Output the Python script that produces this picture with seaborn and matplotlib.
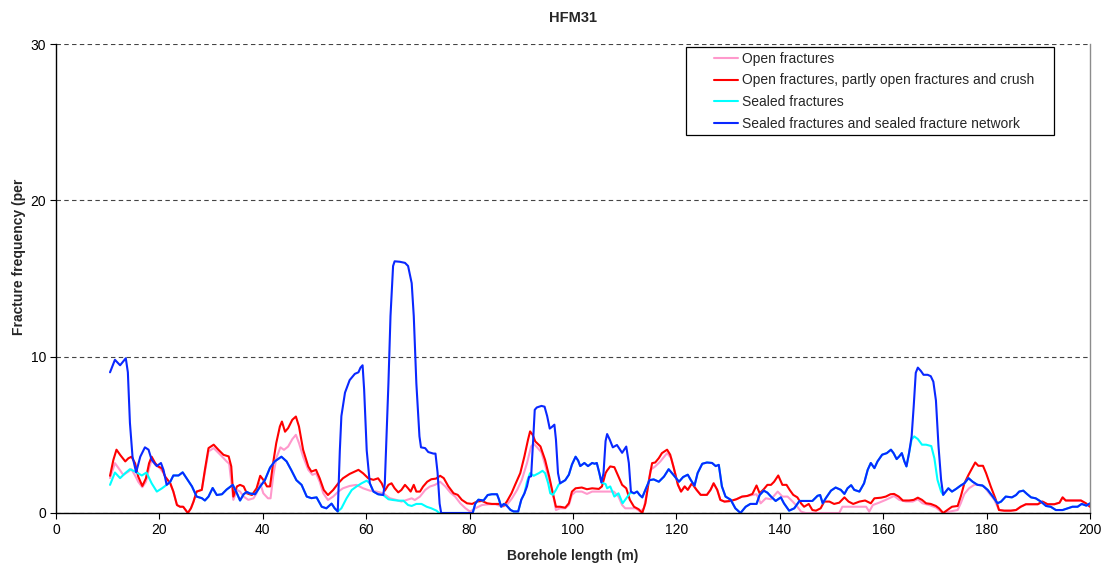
import matplotlib
matplotlib.use("Agg")
import matplotlib.pyplot as plt
from matplotlib.patches import Rectangle
from matplotlib.lines import Line2D
import pandas as pd
import seaborn as sns

# ---------------- data ----------------
title = "HFM31"
x_label = "Borehole length (m)"
y_label = "Fracture frequency (per"
series_names = [
    "Open fractures",
    "Open fractures, partly open fractures and crush",
    "Sealed fractures",
    "Sealed fractures and sealed fracture network",
]
series_colors = ["#FF99CC", "#FF0000", "#00FFFF", "#0A28FF"]
x_ticks = [0, 20, 40, 60, 80, 100, 120, 140, 160, 180, 200]
y_ticks = [0, 10, 20, 30]

open_depth = [10.45, 11.4, 12.1, 13.0, 14.0, 14.6, 15.4, 15.9, 16.7, 17.4, 18.0, 18.5, 19.2, 20.1, 20.8,
              21.1, 22.1, 22.7, 23.4, 24.0, 24.6, 25.5, 26.1, 26.6, 27.2, 28.2, 28.8, 29.5, 30.5, 31.8,
              33.0, 33.5, 34.3, 35.0, 35.6, 36.3, 37.2, 38.2, 38.8, 39.5, 40.1, 41.0, 41.5, 42.0, 42.6,
              43.4, 44.1, 44.9, 45.7, 46.4, 47.0, 47.8, 48.8, 49.6, 50.3, 51.0, 51.7, 52.6, 53.6, 54.6,
              55.5, 56.8, 58.1, 59.4, 60.7, 62.0, 63.3, 64.6, 65.9, 66.8, 67.8, 68.8, 69.4, 70.4, 71.4,
              72.3, 73.3, 74.3, 75.3, 76.3, 77.2, 78.2, 79.2, 80.1, 81.1, 82.4, 83.7, 85.0, 86.3, 87.2,
              88.2, 89.2, 90.1, 91.1, 91.9, 92.4, 93.0, 93.9, 94.6, 95.4, 96.3, 96.7, 97.5, 98.5, 99.2,
              99.8, 100.5, 101.7, 102.7, 103.7, 105.0, 106.3, 107.9, 108.8, 109.5, 110.1, 111.1, 112.1,
              113.0, 113.7, 114.3, 115.0, 115.9, 116.9, 118.2, 119.0, 119.6, 120.3, 120.9, 121.6, 122.2,
              123.0, 123.9, 124.7, 125.9, 126.6, 127.2, 127.9, 128.5, 129.3, 130.5, 131.6, 132.7, 133.7,
              134.7, 135.5, 136.3, 137.3, 138.3, 139.6, 140.5, 141.5, 142.5, 143.4, 144.1, 145.0, 151.5,
              152.1, 156.7, 157.3, 158.0, 159.2, 160.5, 161.5, 162.1, 163.1, 164.4, 165.7, 166.7, 167.6,
              168.9, 170.2, 171.5, 172.8, 174.4, 175.0, 175.7, 176.6, 177.6, 178.6, 179.5, 180.5, 181.5,
              182.4, 183.4, 184.7, 185.7, 186.6, 187.6, 188.9, 189.9, 190.8, 191.8, 193.1, 194.1, 194.7,
              195.3, 196.6, 198.25, 199.2, 200.0]
open_freq = [2.23, 3.19, 2.87, 2.44, 2.65, 2.8, 2.33, 2.0, 1.65, 2.0, 2.87, 3.4, 3.08, 2.87, 2.55,
             2.33, 1.9, 1.37, 0.51, 0.4, 0.4, 0.0, 0.3, 0.73, 1.37, 1.48, 2.6, 3.94, 4.15, 3.72,
             3.3, 3.15, 0.84, 1.48, 1.37, 1.05, 0.84, 0.94, 1.26, 1.9, 1.26, 0.94, 0.94, 2.33, 3.5,
             4.2, 4.04, 4.25, 4.72, 5.0, 4.47, 3.6, 2.76, 2.44, 2.54, 2.0, 1.26, 0.83, 1.05, 1.37,
             1.58, 1.73, 1.8, 1.58, 1.43, 1.37, 1.26, 0.94, 0.83, 0.73, 0.83, 0.94, 0.83, 1.05, 1.47,
             1.69, 1.8, 2.0, 1.7, 1.3, 1.05, 0.62, 0.3, 0.09, 0.3, 0.51, 0.56, 0.56, 0.4, 0.51,
             0.94, 1.48, 2.12, 3.19, 4.26, 4.43, 4.22, 3.88, 3.08, 2.12, 0.94, 0.19, 0.3, 0.3, 0.51,
             1.16, 1.37, 1.37, 1.22, 1.37, 1.37, 1.37, 1.37, 1.05, 0.51, 0.3, 0.3, 0.3,
             0.09, 0.3, 1.26, 2.76, 2.98, 3.3, 3.83, 3.51, 2.76, 1.8, 1.37, 1.7, 1.48,
             1.9, 1.48, 1.16, 1.16, 1.48, 1.9, 1.48, 0.84, 0.73, 0.77, 0.88, 1.05, 1.09,
             1.15, 1.2, 0.62, 0.94, 0.88, 1.37, 1.05, 1.05, 0.73, 0.4, 0.09, 0.0, 0.0,
             0.4, 0.4, 0.09, 0.51, 0.66, 0.84, 1.0, 1.09, 0.84, 0.73, 0.73, 0.88, 0.62,
             0.51, 0.35, 0.0, 0.09, 0.19, 0.62, 1.22, 1.58, 1.8, 1.8, 1.7, 1.26, 0.84,
             0.2, 0.15, 0.15, 0.19, 0.4, 0.56, 0.56, 0.56, 0.73, 0.56, 0.56, 0.66, 1.0,
             0.8, 0.8, 0.8, 0.62, 0.4]

crush_depth = [10.45, 11.1, 11.7, 12.4, 13.4, 14.0, 14.6, 15.3, 15.9, 16.7, 17.4, 18.0, 18.5, 19.2, 19.8,
               20.5, 21.1, 22.1, 22.7, 23.4, 24.0, 24.6, 25.5, 26.1, 26.6, 27.2, 28.2, 28.8, 29.5, 30.5,
               31.4, 32.4, 33.4, 33.9, 34.3, 35.0, 35.6, 36.3, 36.9, 37.9, 38.8, 39.5, 40.1, 40.8, 41.4,
               42.0, 42.6, 43.3, 43.7, 44.3, 44.9, 45.7, 46.4, 47.0, 47.8, 48.8, 49.4, 50.3, 51.0, 51.8,
               52.6, 53.6, 54.6, 55.5, 56.8, 57.8, 58.5, 59.4, 60.4, 61.4, 62.3, 63.0, 63.6, 64.3, 64.9,
               65.5, 66.2, 66.8, 67.5, 68.1, 68.6, 69.2, 69.7, 70.4, 71.0, 71.8, 72.6, 73.5, 74.3, 75.0,
               75.9, 76.9, 77.7, 78.5, 79.5, 80.5, 81.4, 82.4, 83.4, 84.3, 85.6, 86.6, 87.2, 88.1, 88.8,
               89.8, 90.6, 91.3, 91.7, 92.2, 92.7, 93.7, 94.6, 95.4, 96.1, 96.7, 97.5, 98.5, 99.2, 99.8,
               100.5, 101.7, 102.7, 103.7, 105.0, 105.6, 106.3, 106.6, 107.2, 108.0, 108.8, 109.5, 110.3,
               111.0, 111.8, 112.7, 113.4, 114.0, 114.7, 115.3, 115.9, 116.6, 117.2, 118.2, 118.8, 119.5,
               120.3, 120.9, 121.6, 122.2, 123.0, 123.9, 124.7, 125.9, 126.6, 127.2, 127.9, 128.5, 129.3,
               130.5, 131.6, 132.7, 133.7, 134.7, 135.5, 136.1, 136.9, 137.6, 138.3, 138.9, 139.7, 140.5,
               141.3, 141.9, 142.6, 143.4, 144.1, 144.7, 145.6, 146.3, 147.0, 147.9, 148.6, 149.6, 150.5,
               151.5, 152.5, 153.3, 154.2, 155.4, 156.5, 157.6, 158.3, 159.6, 160.5, 161.4, 162.1, 163.0,
               163.8, 165.0, 165.9, 166.7, 167.5, 168.3, 169.2, 170.2, 170.8, 171.6, 172.4, 173.3, 174.4,
               175.0, 175.7, 176.5, 177.2, 177.8, 178.4, 179.3, 179.9, 180.8, 181.8, 182.4, 183.4, 184.7,
               185.7, 186.6, 187.6, 188.9, 189.9, 190.8, 191.8, 193.1, 194.1, 194.7, 195.3, 196.6, 198.25,
               199.2, 200.0]
crush_freq = [2.38, 3.4, 4.05, 3.72, 3.3, 3.5, 3.6, 3.18, 2.33, 1.73, 2.22, 3.18, 3.6, 3.18, 2.97,
              2.86, 2.33, 1.9, 1.37, 0.51, 0.4, 0.4, 0.0, 0.3, 0.73, 1.37, 1.48, 2.76, 4.15, 4.37,
              4.05, 3.72, 3.62, 2.98, 1.05, 1.7, 1.8, 1.7, 1.26, 1.15, 1.58, 2.38, 2.12, 1.7, 1.7,
              3.2, 4.47, 5.53, 5.85, 5.2, 5.43, 5.96, 6.17, 5.53, 4.04, 2.97, 2.65, 2.76, 2.22, 1.47,
              1.15, 1.47, 1.9, 2.22, 2.5, 2.65, 2.76, 2.54, 2.22, 2.12, 2.22, 1.9, 1.43, 1.8, 1.9,
              1.58, 1.32, 1.47, 1.8, 1.58, 1.37, 1.8, 1.37, 1.37, 1.69, 2.0, 2.16, 2.2, 2.38, 2.23,
              1.7, 1.26, 1.16, 0.84, 0.62, 0.58, 0.73, 0.77, 0.62, 0.58, 0.58, 0.47, 0.73, 1.26, 1.8,
              2.55, 3.62, 4.69, 5.22, 5.0, 4.58, 4.26, 3.4, 2.33, 1.26, 0.4, 0.4, 0.34, 0.62, 1.37,
              1.58, 1.63, 1.52, 1.58, 1.54, 1.7, 2.55, 2.72, 2.98, 2.93, 2.33, 1.8, 1.58,
              0.84, 0.4, 0.24, 0.0, 0.62, 2.12, 3.19, 3.23, 3.51, 3.83, 4.05, 3.73, 2.87,
              1.8, 1.37, 1.7, 1.48, 1.9, 1.48, 1.16, 1.16, 1.48, 1.9, 1.48, 0.84, 0.73,
              0.77, 0.88, 1.05, 1.09, 1.22, 1.76, 1.26, 1.52, 1.8, 1.8, 2.0, 2.4, 1.8,
              1.8, 1.48, 1.16, 1.0, 0.62, 0.4, 0.58, 0.19, 0.15, 0.3, 0.73, 0.73, 0.58,
              0.66, 1.0, 0.73, 0.58, 0.73, 0.8, 0.62, 0.94, 0.98, 1.05, 1.2, 1.22, 1.05,
              0.8, 0.8, 0.84, 0.98, 0.84, 0.62, 0.58, 0.45, 0.3, 0.0, 0.19, 0.4, 0.45,
              1.05, 1.9, 2.44, 2.87, 3.23, 3.02, 3.02, 2.55, 1.7, 0.84, 0.19, 0.15, 0.15,
              0.19, 0.4, 0.56, 0.56, 0.56, 0.73, 0.56, 0.56, 0.66, 1.0, 0.8, 0.8, 0.8,
              0.62, 0.4]

sealed_depth = [10.45, 11.4, 12.4, 13.4, 14.3, 15.3, 16.6, 17.5, 18.5, 19.5, 20.5, 21.4,
                22.1, 22.7, 23.7, 24.5, 25.3, 26.3, 27.2, 28.2, 28.8, 29.5, 30.3, 31.1, 32.1, 33.0,
                34.2, 35.0, 35.6, 36.3, 36.9, 37.5, 38.5, 39.5, 40.4, 41.4, 42.3, 43.6, 44.6, 45.5,
                46.5, 47.5, 48.5, 49.4, 50.4, 51.4, 52.3, 53.3, 53.9, 54.5, 55.2, 56.2, 57.2, 58.1,
                59.1, 60.1, 60.7, 61.4, 62.3, 63.3, 64.3, 65.2, 66.2, 67.2, 68.1, 68.8, 69.7, 70.7,
                71.7, 72.6, 73.6, 74.1, 80.6, 81.1, 81.7, 82.7, 83.5, 84.3, 85.3, 85.7, 86.1, 86.6,
                87.1, 87.9, 88.5, 89.4, 90.0, 90.6, 91.1, 91.7, 92.4, 93.4, 94.1, 94.6, 95.2, 95.6,
                96.1, 96.7, 97.2, 97.5, 98.5, 99.2, 99.8, 100.5, 101.0, 101.4, 102.2, 102.9, 103.7,
                104.2, 104.6, 105.1, 105.5, 106.3, 106.6, 107.2, 108.0, 108.8, 109.6, 110.3, 111.1,
                111.8, 112.4, 112.9, 113.4, 114.0, 114.8, 115.6, 116.6, 117.6, 118.5, 119.4, 120.5,
                121.3, 122.2, 122.8, 123.5, 124.1, 125.0, 125.9, 126.9, 127.6, 128.2, 128.8, 129.5,
                130.5, 131.4, 132.4, 133.4, 134.3, 135.5, 136.1, 136.9, 137.6, 138.3, 139.2, 140.2,
                140.8, 141.8, 142.8, 143.8, 145.0, 146.3, 147.3, 147.8, 148.3, 148.9, 149.9, 150.8,
                151.8, 152.5, 153.1, 153.8, 154.4, 155.4, 156.3, 157.0, 157.6, 158.3, 158.9, 159.8,
                160.7, 161.5, 162.0, 162.6, 163.1, 163.6, 164.1, 164.5, 165.0, 165.5, 166.0, 166.7,
                167.5, 168.3, 169.3, 169.9, 170.5, 171.2, 171.6, 172.1, 172.6, 173.3, 174.1, 175.0,
                175.7, 176.5, 177.3, 178.25, 179.2, 180.2, 181.2, 182.1, 182.8, 183.7, 184.9, 185.7,
                186.3, 187.1, 187.8, 188.6, 189.5, 190.5, 191.5, 192.4, 193.4, 194.7, 195.7, 196.6,
                197.6, 198.4, 199.3, 200.0]
sealed_freq = [1.8, 2.59, 2.23, 2.55, 2.8, 2.65, 2.4, 2.59, 1.9, 1.37, 1.58, 1.8,
               2.0, 2.4, 2.4, 2.6, 2.2, 1.7, 1.05, 0.95, 0.8, 1.05, 1.6, 1.15, 1.2, 1.5,
               1.8, 1.25, 0.8, 1.2, 1.35, 1.25, 1.2, 1.7, 2.1, 2.9, 3.3, 3.6, 3.3, 2.75,
               2.1, 1.8, 1.05, 0.95, 1.0, 0.4, 0.3, 0.6, 0.3, 0.1, 0.3, 0.94, 1.47, 1.69,
               1.9, 2.07, 1.9, 1.37, 1.2, 1.15, 0.88, 0.83, 0.79, 0.79, 0.51, 0.45, 0.58, 0.58,
               0.4, 0.3, 0.15, 0.0, 0.0, 0.6, 0.85, 0.8, 1.15, 1.2, 1.2, 0.85, 0.4, 0.58,
               0.5, 0.2, 0.1, 0.1, 0.85, 1.25, 2.0, 2.55, 2.38, 2.55, 2.7, 2.55, 1.9, 1.26,
               1.16, 1.48, 1.8, 1.9, 2.1, 2.45, 3.1, 3.6, 3.35, 3.0, 3.2, 3.0, 3.2,
               3.15, 3.2, 2.55, 1.95, 1.85, 1.58, 1.7, 1.05, 1.26, 0.62, 0.94, 1.3,
               1.26, 1.37, 1.15, 1.0, 1.48, 2.1, 2.15, 2.0, 2.33, 2.8, 2.45, 2.0,
               2.3, 2.45, 2.1, 1.75, 2.55, 3.15, 3.23, 3.2, 3.0, 3.08, 1.7, 1.05,
               0.85, 0.3, 0.0, 0.4, 0.58, 0.58, 1.15, 1.43, 1.3, 1.05, 0.77, 1.0,
               0.62, 0.15, 0.3, 0.77, 0.77, 0.77, 1.1, 1.15, 0.62, 0.95, 1.43, 1.63,
               1.48, 1.22, 1.58, 1.78, 1.48, 1.37, 1.9, 2.76, 3.2, 2.87, 3.3, 3.73,
               3.83, 4.05, 3.83, 3.45, 3.62, 3.83, 3.3, 2.98, 3.83, 4.7, 4.9, 4.73,
               4.37, 4.37, 4.28, 3.5, 2.12, 1.37, 1.16, 1.37, 1.58, 1.37, 1.54, 1.76,
               1.9, 2.23, 2.0, 1.8, 1.76, 1.48, 1.05, 0.62, 0.73, 1.05, 1.0, 1.15,
               1.37, 1.43, 1.22, 1.0, 0.94, 0.73, 0.45, 0.4, 0.19, 0.19, 0.3, 0.4,
               0.4, 0.58, 0.47, 0.62]

network_depth = [10.45, 11.4, 12.4, 13.5, 13.9, 14.3, 14.8, 15.5, 16.3, 17.2, 17.9, 18.5, 19.5, 20.3,
                 20.8, 21.4, 22.1, 22.7, 23.7, 24.5, 25.3, 26.3, 27.2, 28.2, 28.8, 29.5, 30.3, 31.1,
                 32.1, 33.0, 34.2, 35.0, 35.6, 36.3, 36.9, 37.5, 38.5, 39.5, 40.4, 41.4, 42.3, 43.6,
                 44.6, 45.5, 46.5, 47.5, 48.5, 49.4, 50.4, 51.4, 52.3, 53.3, 53.9, 54.5, 54.9, 55.2,
                 55.9, 56.8, 57.8, 58.5, 58.9, 59.3, 59.6, 60.1, 60.7, 61.4, 62.3, 63.3, 63.6, 64.3,
                 64.7, 65.2, 65.5, 66.5, 67.5, 68.1, 68.8, 69.2, 69.7, 70.3, 70.6, 71.4, 72.0, 73.0,
                 73.4, 73.8, 74.2, 74.5, 80.6, 81.1, 81.7, 82.7, 83.5, 84.3, 85.3, 85.7, 86.1, 86.6,
                 87.1, 87.9, 88.5, 89.4, 90.0, 90.6, 91.1, 91.5, 91.9, 92.3, 92.6, 93.0, 93.9, 94.5,
                 95.0, 95.5, 95.9, 96.4, 96.7, 97.1, 97.5, 98.5, 99.2, 99.8, 100.5, 101.0, 101.4,
                 102.2, 102.9, 103.7, 104.2, 104.6, 105.1, 105.5, 105.9, 106.3, 106.6, 107.1, 107.7,
                 108.5, 109.5, 110.3, 110.8, 111.2, 111.8, 112.4, 112.9, 113.4, 114.0, 114.8, 115.6,
                 116.6, 117.6, 118.5, 119.4, 120.5, 121.3, 122.2, 122.8, 123.5, 124.1, 125.0, 125.9,
                 126.9, 127.6, 128.2, 128.8, 129.5, 130.5, 131.4, 132.4, 133.4, 134.3, 135.5, 136.1,
                 136.9, 137.6, 138.3, 139.2, 140.2, 140.8, 141.8, 142.8, 143.8, 145.0, 146.3, 147.3,
                 147.8, 148.3, 148.9, 149.9, 150.8, 151.8, 152.5, 153.1, 153.8, 154.4, 155.4, 156.3,
                 157.0, 157.6, 158.3, 158.9, 159.8, 160.7, 161.5, 162.0, 162.6, 163.1, 163.6, 164.1,
                 164.5, 165.0, 165.5, 165.9, 166.3, 166.7, 167.3, 167.8, 168.6, 169.2, 169.7, 170.2,
                 170.7, 171.2, 171.6, 172.1, 172.6, 173.3, 174.1, 175.0, 175.7, 176.5, 177.3, 178.25,
                 179.2, 180.2, 181.2, 182.1, 182.8, 183.7, 184.9, 185.7, 186.3, 187.1, 187.8, 188.6,
                 189.5, 190.5, 191.5, 192.4, 193.4, 194.7, 195.7, 196.6, 197.6, 198.4, 199.3, 200.0]
network_freq = [9.0, 9.8, 9.45, 9.9, 9.0, 5.76, 3.6, 2.6, 3.6, 4.2, 4.05, 3.4, 3.0, 3.2,
                2.75, 1.8, 2.0, 2.4, 2.4, 2.6, 2.2, 1.7, 1.05, 0.95, 0.8, 1.05, 1.6, 1.15,
                1.2, 1.5, 1.8, 1.25, 0.8, 1.2, 1.35, 1.25, 1.2, 1.7, 2.1, 2.9, 3.3, 3.6,
                3.3, 2.75, 2.1, 1.8, 1.05, 0.95, 1.0, 0.4, 0.3, 0.6, 0.3, 0.1, 4.0, 6.2,
                7.7, 8.5, 8.9, 9.0, 9.3, 9.45, 7.9, 4.0, 1.9, 1.37, 1.2, 1.15, 1.9, 8.3,
                12.6, 15.8, 16.1, 16.07, 16.0, 15.8, 14.7, 12.6, 8.3, 4.9, 4.2, 4.15, 3.9, 3.8,
                3.8, 2.6, 0.6, 0.0, 0.0, 0.6, 0.85, 0.8, 1.15, 1.2, 1.2, 0.85, 0.4, 0.58,
                0.5, 0.2, 0.1, 0.1, 0.85, 1.25, 1.7, 2.3, 2.35, 4.7, 6.6, 6.75, 6.85, 6.8,
                6.2, 5.4, 5.5, 5.65, 4.7, 2.55, 1.9, 2.1, 2.45, 3.1, 3.6, 3.35, 3.0,
                3.2, 3.0, 3.2, 3.15, 3.2, 2.55, 1.95, 2.55, 4.6, 5.05, 4.7, 4.2,
                4.35, 3.85, 4.25, 3.2, 1.37, 1.26, 1.37, 1.15, 1.0, 1.48, 2.1, 2.15,
                2.0, 2.33, 2.8, 2.45, 2.0, 2.3, 2.45, 2.1, 1.75, 2.55, 3.15, 3.23,
                3.2, 3.0, 3.08, 1.7, 1.05, 0.85, 0.3, 0.0, 0.4, 0.58, 0.58, 1.15,
                1.43, 1.3, 1.05, 0.77, 1.0, 0.62, 0.15, 0.3, 0.77, 0.77, 0.77, 1.1,
                1.15, 0.62, 0.95, 1.43, 1.63, 1.48, 1.22, 1.58, 1.78, 1.48, 1.37, 1.9,
                2.76, 3.2, 2.87, 3.3, 3.73, 3.83, 4.05, 3.83, 3.45, 3.62, 3.83, 3.3,
                2.98, 3.83, 4.9, 6.83, 8.97, 9.3, 9.08, 8.84, 8.84, 8.75, 8.4, 7.2,
                4.26, 2.12, 1.16, 1.37, 1.58, 1.37, 1.54, 1.76, 1.9, 2.23, 2.0, 1.8,
                1.76, 1.48, 1.05, 0.62, 0.73, 1.05, 1.0, 1.15, 1.37, 1.43, 1.22, 1.0,
                0.94, 0.73, 0.45, 0.4, 0.19, 0.19, 0.3, 0.4, 0.4, 0.58, 0.47, 0.62]

# ---------------- build long table ----------------
frames = []
for name, d, f in zip(series_names,
                      [open_depth, crush_depth, sealed_depth, network_depth],
                      [open_freq, crush_freq, sealed_freq, network_freq]):
    frames.append(pd.DataFrame({"depth": d, "freq": f, "series": name}))
df = pd.concat(frames, ignore_index=True)

# ---------------- figure ----------------
sns.set_theme(style="white")
plt.rcParams["font.family"] = ["Liberation Sans", "DejaVu Sans"]

W, H = 1110, 569
fig = plt.figure(figsize=(W / 100, H / 100), dpi=100)
L, R, T, B = 56, 1090, 44, 513
ax = fig.add_axes([L / W, 1 - B / H, (R - L) / W, (B - T) / H])

sns.lineplot(data=df, x="depth", y="freq", hue="series", hue_order=series_names,
             palette=dict(zip(series_names, series_colors)), sort=False, estimator=None,
             linewidth=1.5, ax=ax, legend=False)
for ln in ax.lines:
    ln.set_solid_joinstyle("round")

ax.set_xlim(x_ticks[0], x_ticks[-1])
ax.set_ylim(y_ticks[0], y_ticks[-1])
ax.set_xticks(x_ticks)
ax.set_yticks(y_ticks)
ax.tick_params(axis="both", which="major", direction="out", length=4, width=0.8,
               color="black", labelsize=10, labelcolor="black", pad=3,
               bottom=True, left=True)

ax.yaxis.grid(True, linestyle=(0, (4, 3)), color="#444444", linewidth=0.8)
ax.xaxis.grid(False)
ax.set_axisbelow(True)
ax.spines["top"].set_visible(False)
ax.spines["right"].set_color("#8c8c8c")
ax.spines["right"].set_linewidth(1.0)
for s in ("left", "bottom"):
    ax.spines[s].set_color("black")
    ax.spines[s].set_linewidth(1.0)
ax.set_facecolor("white")

ax.set_xlabel(x_label, fontsize=10, fontweight="bold")
ax.set_ylabel(y_label, fontsize=10, fontweight="bold")
ax.xaxis.set_label_coords(0.5, (B - 549) / (B - T))
ax.yaxis.set_label_coords((26 - L) / (R - L), (B - 257) / (B - T))

fig.text((L + R) / 2 / W, 1 - 18 / H, title, ha="center", va="center",
         fontsize=10.5, fontweight="bold")

# legend frame + entries
def ax_x(px):
    return (px - L) / (R - L)

def ax_y(py):
    return (B - py) / (B - T)

frame = Rectangle((ax_x(686), ax_y(135)), ax_x(1054) - ax_x(686), ax_y(47) - ax_y(135),
                  transform=ax.transAxes, facecolor="white", edgecolor="black",
                  linewidth=0.9, zorder=4.5)
ax.add_patch(frame)
handles = [Line2D([], [], color=c, linewidth=1.5) for c in series_colors]
ax.legend(handles, series_names, loc="upper left",
          bbox_to_anchor=(ax_x(714), ax_y(51.5)), frameon=False, fontsize=10,
          handlelength=1.75, handletextpad=0.3, borderpad=0, borderaxespad=0,
          labelspacing=0.57)

fig.savefig("out.png", dpi=100, facecolor="white")
